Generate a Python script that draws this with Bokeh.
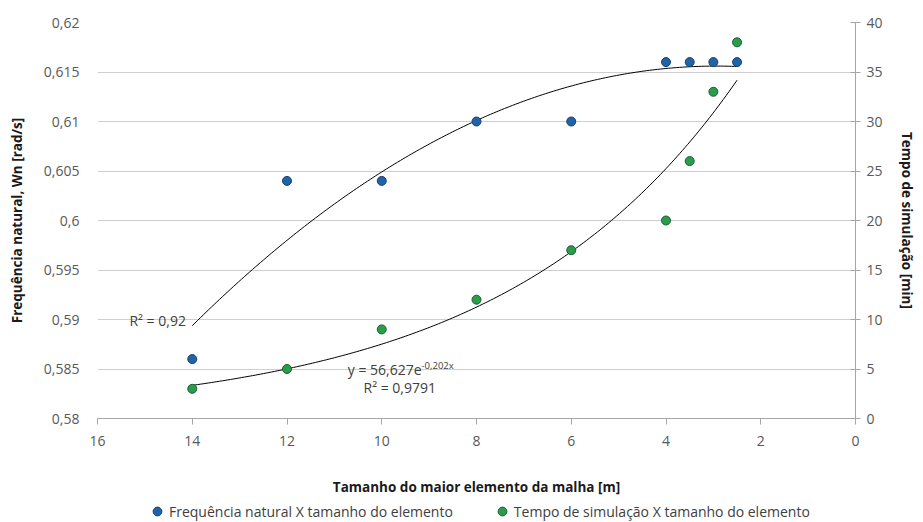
import numpy as np
from bokeh.plotting import figure
from bokeh.layouts import column
from bokeh.models import (Range1d, LinearAxis, FixedTicker, CustomJSTickFormatter,
                          Label, Legend, LegendItem)
from bokeh.embed import file_html
from bokeh.resources import INLINE

# ---------------- data ----------------
element_size = [14, 12, 10, 8, 6, 4, 3.5, 3, 2.5]
natural_freq = [0.586, 0.604, 0.604, 0.610, 0.610, 0.616, 0.616, 0.616, 0.616]
sim_time = [3, 5, 9, 12, 17, 20, 26, 33, 38]

x_ticks = [0, 2, 4, 6, 8, 10, 12, 14, 16]
left_ticks = [0.58, 0.585, 0.59, 0.595, 0.60, 0.605, 0.61, 0.615, 0.62]
right_ticks = [0, 5, 10, 15, 20, 25, 30, 35, 40]

exp_a = 56.627       # y = a * e^(b x)  (simulation time trendline)
exp_b = -0.202
poly_order = 2       # polynomial trendline for natural frequency

series_names = ["Frequência natural X tamanho do elemento",
                "Tempo de simulação X tamanho do elemento"]
r2_freq_text = "R² = 0,92"
eq_time_text = "y = 56,627e"
eq_time_exp = "-0,202x"
r2_time_text = "R² = 0,9791"

# ---------------- styles ----------------
FONT = "Open Sans"
BLUE = "#1f63a9"
BLUE_EDGE = "#17406b"
GREEN = "#2a9d4c"
GREEN_EDGE = "#1b5e2e"
AXIS_GRAY = "#a6a6a6"
GRID_GRAY = "#cfcfcf"
TICK_TEXT = "#595959"
TEXT = "#404040"
TITLE = "#1a1a1a"

W = 923
H_MAIN = 499
H_LEG = 23

p = figure(width=W, height=H_MAIN, output_backend="svg", toolbar_location=None,
           x_range=Range1d(16, 0), y_range=Range1d(0.58, 0.62),
           min_border_left=97, min_border_right=68, min_border_top=22,
           min_border_bottom=81)
p.extra_y_ranges = {"time": Range1d(0, 40)}
p.outline_line_color = None
p.background_fill_color = "white"
p.border_fill_color = "white"

# x axis
xa = p.xaxis[0]
xa.ticker = FixedTicker(ticks=x_ticks)
xa.axis_line_color = AXIS_GRAY
xa.major_tick_line_color = AXIS_GRAY
xa.major_tick_out = 6
xa.major_tick_in = 0
xa.minor_tick_line_color = None
xa.major_label_standoff = 11
xa.major_label_text_font = FONT
xa.major_label_text_font_size = "14px"
xa.major_label_text_color = TICK_TEXT
xa.axis_label = "Tamanho do maior elemento da malha [m]"
xa.axis_label_text_font = FONT
xa.axis_label_text_font_size = "13.5px"
xa.axis_label_text_font_style = "bold"
xa.axis_label_text_color = TITLE
xa.axis_label_standoff = 29

# left y axis
ya = p.yaxis[0]
ya.ticker = FixedTicker(ticks=left_ticks)
ya.formatter = CustomJSTickFormatter(code="""
    let s = tick.toFixed(3).replace(/0+$/, '').replace(/\\.$/, '');
    return s.replace('.', ',');
""")
ya.axis_line_color = None
ya.major_tick_line_color = None
ya.minor_tick_line_color = None
ya.major_label_standoff = 12
ya.major_label_text_font = FONT
ya.major_label_text_font_size = "14px"
ya.major_label_text_color = TICK_TEXT
ya.axis_label = "Frequência natural, Wn [rad/s]"
ya.axis_label_text_font = FONT
ya.axis_label_text_font_size = "13.5px"
ya.axis_label_text_font_style = "bold"
ya.axis_label_text_color = TITLE
ya.axis_label_standoff = 15

# right y axis
ra = LinearAxis(y_range_name="time", ticker=FixedTicker(ticks=right_ticks))
ra.axis_line_color = AXIS_GRAY
ra.major_tick_line_color = AXIS_GRAY
ra.major_tick_in = 5
ra.major_tick_out = 5
ra.minor_tick_line_color = None
ra.major_label_standoff = 6
ra.major_label_text_font = FONT
ra.major_label_text_font_size = "14px"
ra.major_label_text_color = TICK_TEXT
ra.axis_label = "Tempo de simulação [min]"
ra.axis_label_text_font = FONT
ra.axis_label_text_font_size = "13.5px"
ra.axis_label_text_font_style = "bold"
ra.axis_label_text_color = TITLE
ra.axis_label_standoff = 12
p.add_layout(ra, "right")

# grid
p.xgrid.grid_line_color = None
p.ygrid.ticker = FixedTicker(ticks=left_ticks)
p.ygrid.grid_line_color = GRID_GRAY
p.ygrid.grid_line_width = 1

# trendlines (computed from the data / fitted equation)
xs = np.linspace(min(element_size), max(element_size), 200)
coef = np.polyfit(element_size, natural_freq, poly_order)
p.line(xs, np.polyval(coef, xs), line_color="black", line_width=1)
p.line(xs, exp_a * np.exp(exp_b * xs), line_color="black", line_width=1,
       y_range_name="time")

# points
r_blue = p.scatter(element_size, natural_freq, size=9, marker="circle",
                   fill_color=BLUE, line_color=BLUE_EDGE, line_width=1)
r_green = p.scatter(element_size, sim_time, size=9, marker="circle",
                    fill_color=GREEN, line_color=GREEN_EDGE, line_width=1,
                    y_range_name="time")

# annotations
def lab(x, y, text, size="14px", align="left", **kw):
    p.add_layout(Label(x=x, y=y, text=text, text_font=FONT, text_font_size=size,
                       text_color=TEXT, text_align=align, text_baseline="middle", **kw))

lab(15.325, 0.5899, r2_freq_text)
lab(9.16, 0.58495, eq_time_text, align="right")
lab(9.16, 0.58495, eq_time_exp, size="9.5px", y_offset=4)
lab(10.385, 0.58313, r2_time_text)

# legend strip below the chart (its frame is aligned with the chart's frame;
# its ranges keep the series out of view so only the legend shows)
lf = figure(width=W, height=H_LEG, output_backend="svg", toolbar_location=None,
            x_axis_location=None, y_axis_location=None, min_border=0,
            x_range=Range1d(100, 101), y_range=Range1d(100, 101))
lf.outline_line_color = None
lf.xgrid.visible = False
lf.ygrid.visible = False
lb = lf.scatter(element_size, natural_freq, marker="circle", fill_color=BLUE,
                line_color=BLUE_EDGE, line_width=1)
lg = lf.scatter(element_size, sim_time, marker="circle", fill_color=GREEN,
                line_color=GREEN_EDGE, line_width=1)
legend = Legend(items=[LegendItem(label=series_names[0], renderers=[lb]),
                       LegendItem(label=series_names[1], renderers=[lg])],
                orientation="horizontal", location=(49, 0),
                label_text_font=FONT, label_text_font_size="14px",
                label_text_color=TEXT, glyph_width=22, glyph_height=22,
                label_height=22, label_standoff=1, spacing=38,
                padding=0, margin=0, border_line_color=None,
                background_fill_color=None)
lf.add_layout(legend)

open("out.html", "w").write(file_html(column(p, lf, spacing=0), INLINE))
